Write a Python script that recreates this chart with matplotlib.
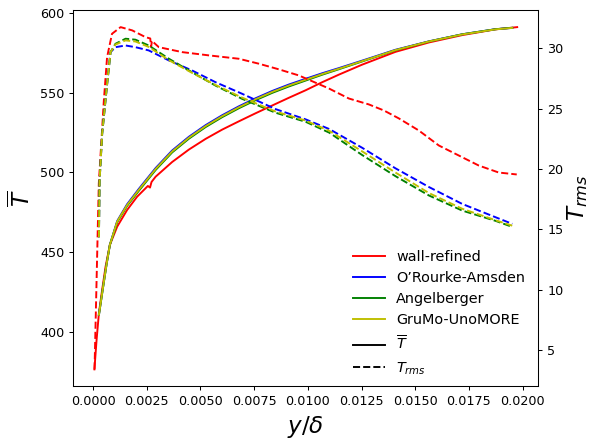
import matplotlib
matplotlib.use('Agg')
import matplotlib.pyplot as plt
from matplotlib.lines import Line2D

# mean temperature (left axis)
x_wall = [0.00006, 0.00016, 0.00027, 0.00042, 0.00058, 0.00078, 0.00112, 0.00158, 0.00205,
          0.00255, 0.00265, 0.00272, 0.00291, 0.00368, 0.00446, 0.00524, 0.00601, 0.00679,
          0.00756, 0.00834, 0.00911, 0.00989, 0.01067, 0.01144, 0.01253, 0.01408, 0.01564,
          0.01719, 0.01874, 0.01975]
T_wall = [376.6, 395, 411.9, 426.4, 441, 454.6, 466, 476.4, 484.8,
          491.5, 490.5, 494.0, 497.3, 506.5, 514.3, 521, 526.8, 532,
          537.0, 541.9, 546.7, 551.4, 556.5, 561.2, 567.5, 575.5, 581.4,
          586.0, 589.6, 591]

x_mod = [0.00027, 0.00045, 0.00062, 0.00078, 0.00112, 0.00158, 0.00213, 0.00291, 0.00368,
         0.00446, 0.00524, 0.00601, 0.00679, 0.00756, 0.00834, 0.00911, 0.00989, 0.01067,
         0.01144, 0.01253, 0.01408, 0.01564, 0.01719, 0.01874, 0.01952]
T_orourke = [410.8, 427, 442, 454.6, 469.5, 480, 489.7, 502.7, 513.7,
             522.3, 529.6, 535.8, 541.4, 546.4, 551.0, 555.0, 558.6, 562.1,
             565.3, 570.0, 576.8, 582.1, 586.5, 589.7, 590.5]
T_angel = [410.8, 427, 442, 454.6, 468.8, 479, 488.5, 501.5, 512.5,
           521.1, 528.4, 534.6, 540.2, 545.2, 549.8, 553.8, 557.5, 561.2,
           564.6, 569.5, 576.5, 582.0, 586.5, 589.7, 590.6]
T_grumo = [410.8, 427, 442, 454.6, 469.2, 479.5, 489.1, 502.1, 513.1,
           521.7, 529.0, 535.2, 540.8, 545.8, 550.4, 554.4, 558.0, 561.6,
           564.9, 569.7, 576.6, 582.0, 586.4, 589.6, 590.5]

# rms temperature (right axis)
xr_wall = [0.000065, 0.000265, 0.0005, 0.00065, 0.00088, 0.00128, 0.00182, 0.00244,
           0.00266, 0.0027, 0.00274, 0.00306, 0.00415, 0.00539, 0.00679, 0.00772,
           0.00864, 0.00958, 0.01098, 0.01191, 0.01284, 0.01354, 0.01424, 0.01517,
           0.0161, 0.01703, 0.01796, 0.01889, 0.01973]
Trms_wall = [3.4, 18.8, 25.67, 29.25, 31.19, 31.74, 31.47, 30.91,
             30.8, 30.1, 30.6, 30.08, 29.67, 29.4, 29.12, 28.71,
             28.25, 27.74, 26.66, 25.83, 25.34, 24.84, 24.18, 23.18,
             21.94, 21.11, 20.28, 19.70, 19.54]

xr_mod = [0.00027, 0.0003, 0.00042, 0.00065, 0.00081, 0.00104, 0.00151, 0.00197, 0.00259,
          0.00353, 0.00461, 0.0057, 0.00694, 0.0085, 0.0099, 0.011, 0.01253, 0.01408,
          0.01564, 0.01719, 0.01874, 0.01952]
Trms_orourke = [14.34, 19.0, 22.9, 27.0, 29.67, 30.08, 30.22, 30.08, 29.81,
                28.98, 28.15, 27.18, 26.22, 24.95, 24.1, 23.3, 21.75, 20.05,
                18.5, 17.1, 16.0, 15.45]
Trms_angel = [14.34, 19.0, 22.9, 27.0, 29.67, 30.36, 30.78, 30.7, 30.22,
              29.12, 28.0, 26.9, 25.8, 24.65, 23.9, 23.0, 21.15, 19.4,
              17.8, 16.55, 15.7, 15.2]
Trms_grumo = [14.34, 19.0, 22.9, 27.0, 29.67, 30.3, 30.64, 30.55, 30.1,
              29.0, 27.95, 26.95, 25.9, 24.75, 24.0, 23.15, 21.45, 19.7,
              18.0, 16.7, 15.75, 15.3]

labels = ['wall-refined', 'O\u2019Rourke-Amsden', 'Angelberger', 'GruMo-UnoMORE']
colors = ['r', 'b', 'g', 'y']

fig = plt.figure(figsize=(590 / 92, 441 / 92), dpi=92)
ax = fig.add_axes([0.1242, 0.1236, 0.7882, 0.8537])
ax2 = ax.twinx()

ax.plot(x_wall, T_wall, color=colors[0])
ax.plot(x_mod, T_orourke, color=colors[1])
ax.plot(x_mod, T_angel, color=colors[2])
ax.plot(x_mod, T_grumo, color=colors[3])

ax2.plot(xr_wall, Trms_wall, color=colors[0], ls='--')
ax2.plot(xr_mod, Trms_orourke, color=colors[1], ls='--')
ax2.plot(xr_mod, Trms_angel, color=colors[2], ls='--')
ax2.plot(xr_mod, Trms_grumo, color=colors[3], ls='--')

ax.set_xlabel(r'$y/\delta$', fontsize=18)
ax.set_ylabel(r'$\overline{T}$', fontsize=18)
ax2.set_ylabel(r'$T_{rms}$', fontsize=18, labelpad=1)

handles = [Line2D([], [], color=c) for c in colors]
handles += [Line2D([], [], color='k'), Line2D([], [], color='k', ls='--')]
ax2.legend(handles, labels + [r'$\overline{T}$', r'$T_{rms}$'],
           loc='lower right', bbox_to_anchor=(1.0, -0.008), frameon=False,
           handlelength=2.2, fontsize=11.3)

fig.savefig('out.png', dpi=92)
